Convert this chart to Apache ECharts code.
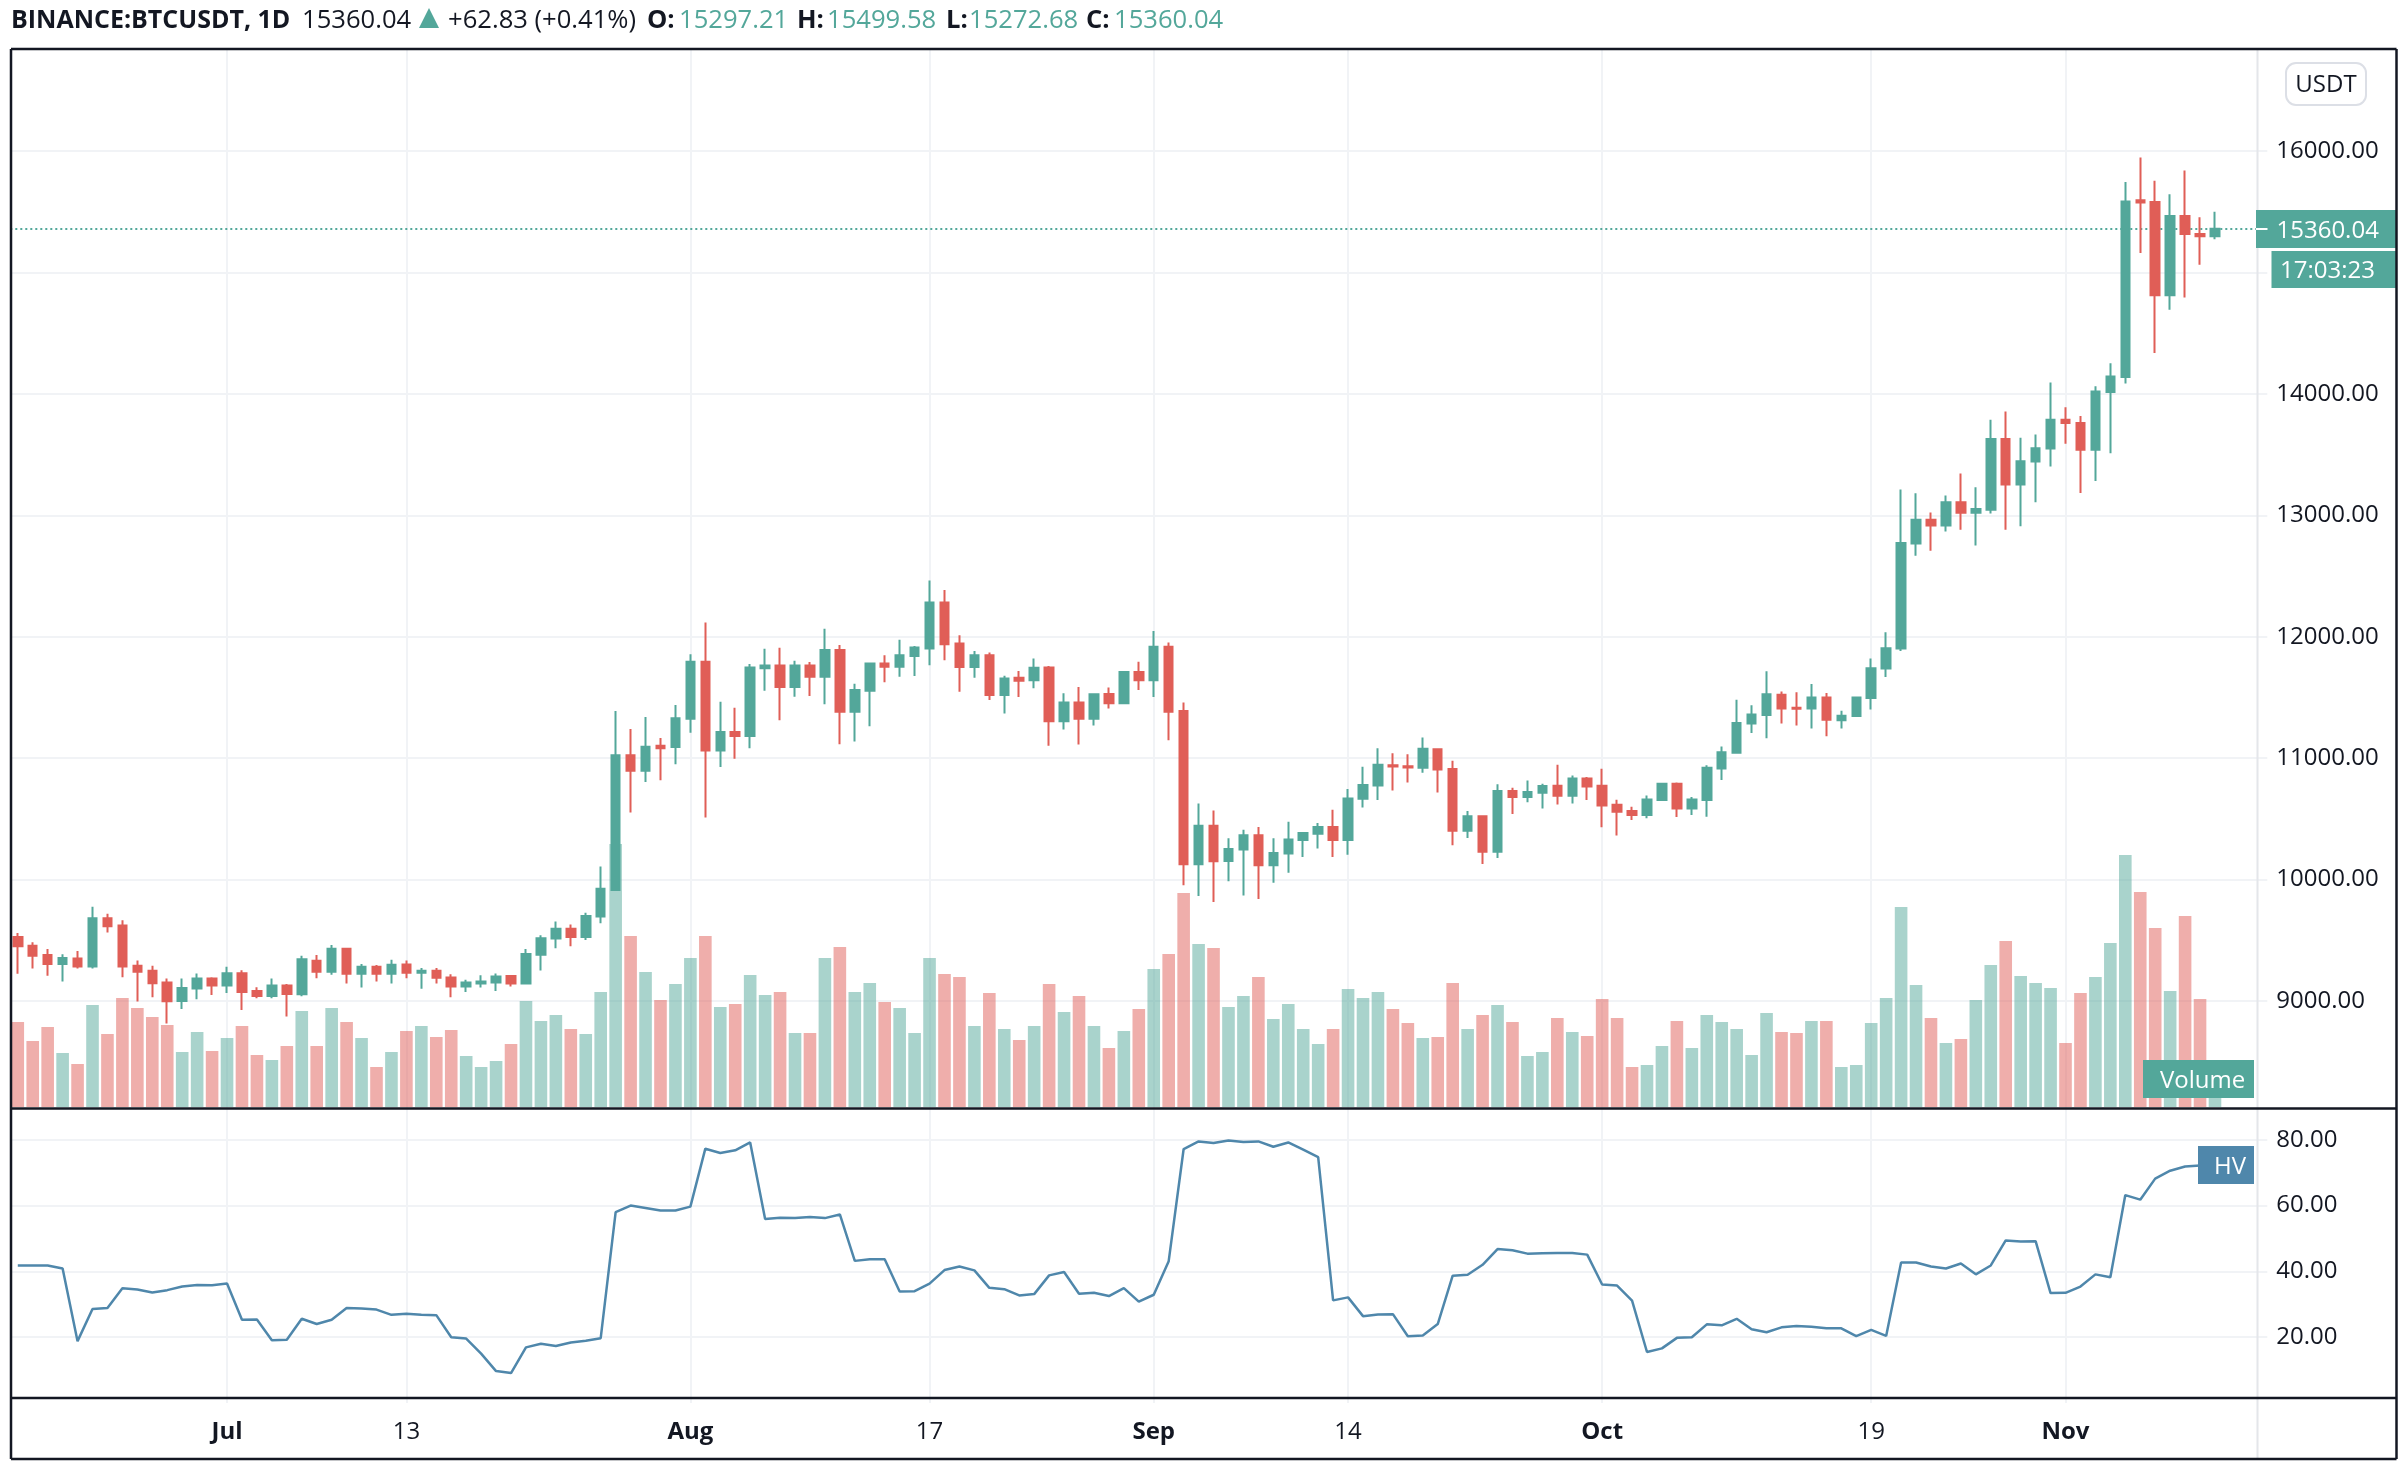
<!DOCTYPE html>
<html>
<head>
<meta charset="utf-8">
<script src="https://cdn.jsdelivr.net/npm/echarts@6/dist/echarts.min.js"></script>
<style>
  html, body { margin: 0; background: #fff; }
  #chart { width: 2404px; height: 1474px; }
</style>
</head>
<body>
<div id="chart"></div>
<script>
const FONT = '"Open Sans", sans-serif';
const UP = '#53a79a';
const DOWN = '#e05e57';
const HV_BLUE = '#4f87ab';
const INK = '#131722';
const LINE = '#f1f3f6';

const opens = [
  9528,9456,9379,9304,9351,9285,9682,9622,9290,9249,
  9152,9000,9102,9185,9127,9229,9083,9042,9127,9055,
  9332,9240,9431,9224,9282,9224,9301,9232,9249,9193,
  9119,9144,9152,9205,9144,9381,9514,9594,9528,9696,
  9915,11024,10897,11103,11091,11324,11794,11062,11215,11182,
  11741,11762,11585,11762,11671,11891,11382,11556,11779,11753,
  11841,11903,12282,11944,11750,11847,11521,11662,11641,11747,
  11303,11459,11324,11529,11453,11709,11641,11918,11388,10127,
  10444,10153,10247,10364,10118,10214,10326,10378,10433,10326,
  10666,10775,10942,10934,10921,11074,10910,10403,10521,10230,
  10729,10679,10715,10773,10690,10833,10773,10616,10564,10531,
  10655,10789,10586,10655,10915,11044,11285,11356,11523,11416,
  11408,11499,11313,11347,11496,11738,11902,12768,12963,12916,
  13108,13020,13045,13628,13253,13442,13549,13786,13760,13540,
  14016,14138,15594,15581,14812,15465,15316,15297.21
];
const closes = [
  9450,9373,9304,9354,9285,9682,9616,9285,9240,9147,
  8997,9108,9185,9127,9229,9075,9042,9127,9058,9343,
  9240,9431,9224,9282,9224,9298,9232,9249,9191,9119,
  9152,9160,9202,9144,9387,9517,9594,9528,9699,9925,
  11024,10897,11094,11082,11329,11794,11062,11215,11182,11747,
  11762,11585,11762,11671,11891,11382,11562,11779,11753,11847,
  11912,12282,11938,11750,11847,11521,11656,11638,11744,11303,
  11459,11324,11526,11453,11709,11641,11918,11382,10127,10444,
  10150,10252,10364,10118,10219,10329,10384,10433,10326,10668,
  10778,10945,10932,10923,11077,10907,10403,10521,10230,10729,
  10679,10721,10770,10690,10833,10767,10611,10559,10531,10660,
  10789,10586,10660,10921,11049,11290,11359,11526,11408,11406,
  11499,11316,11350,11499,11741,11905,12771,12963,12916,13108,
  13020,13052,13628,13253,13445,13552,13786,13760,13540,14019,
  14142,15584,15575,14812,15465,15316,15297,15360.04
];
const lows = [
  9224,9268,9207,9160,9268,9268,9564,9196,8995,9031,
  8815,8934,9014,9050,9066,8926,9022,9022,8873,9039,
  9188,9216,9144,9111,9160,9144,9188,9100,9144,9031,
  9075,9111,9083,9119,9135,9252,9434,9450,9503,9641,
  9906,10553,10803,10818,10950,11209,10512,10927,10994,11082,
  11556,11312,11506,11512,11444,11115,11138,11262,11626,11671,
  11676,11765,11806,11547,11662,11479,11368,11503,11576,11103,
  11235,11112,11268,11409,11450,11562,11503,11147,9953,9865,
  9815,9986,9868,9841,9973,10057,10186,10255,10186,10205,
  10594,10655,10734,10800,10879,10718,10282,10342,10129,10178,
  10540,10636,10586,10619,10627,10655,10430,10362,10490,10504,
  10647,10515,10531,10518,10819,11041,11208,11164,11285,11269,
  11244,11181,11244,11341,11401,11669,11883,12667,12708,12866,
  12881,12752,13014,12881,12910,13108,13401,13590,13184,13282,
  13511,14085,15159,14337,14693,14794,15064,15272.68
];
const highs = [
  9561,9484,9428,9384,9412,9776,9718,9666,9334,9290,
  9185,9185,9227,9196,9282,9254,9113,9185,9141,9373,
  9379,9461,9439,9304,9296,9340,9334,9271,9271,9221,
  9174,9213,9227,9213,9428,9542,9655,9630,9727,10108,
  11388,11241,11338,11165,11438,11856,12118,11465,11415,11776,
  11900,11909,11803,11791,12065,11932,11612,11788,11847,11976,
  11924,12462,12385,12012,11882,11871,11679,11718,11821,11759,
  11535,11585,11535,11582,11718,11794,12047,11953,11459,10627,
  10568,10340,10411,10433,10340,10477,10392,10466,10575,10745,
  10929,11082,11041,11033,11170,11077,10978,10564,10529,10786,
  10756,10816,10789,10945,10858,10844,10912,10658,10600,10693,
  10792,10800,10679,10942,11096,11480,11436,11715,11548,11543,
  11611,11536,11391,11505,11820,12037,13212,13181,13023,13162,
  13345,13231,13786,13855,13638,13666,14094,13890,13817,14063,
  14252,15745,15946,15754,15644,15839,15455,15499.58
];
const volumes = [
  85,66,80,54,43,102,73,109,99,90,
  82,55,75,56,69,81,52,47,61,96,
  61,99,85,69,40,55,76,81,70,77,
  51,40,46,63,106,86,92,78,73,115,
  263,171,135,107,123,149,171,100,103,132,
  112,115,74,74,149,160,115,124,105,99,
  74,149,133,130,81,114,78,67,81,123,
  95,111,81,59,76,98,138,153,214,163,
  159,100,111,130,88,103,78,63,78,118,
  109,115,98,84,69,70,124,78,92,102,
  85,51,55,89,75,71,108,89,40,42,
  61,86,59,92,85,78,52,94,75,74,
  86,86,40,42,84,109,200,122,89,64,
  68,107,142,166,131,124,119,64,114,130,
  164,252,215,179,116,191,108,30
];
const hv = [
  41.8,41.8,41.8,40.9,18.8,28.6,28.9,34.9,34.5,33.6,
  34.3,35.4,35.9,35.8,36.3,25.3,25.4,19.1,19.2,25.6,
  24,25.3,28.9,28.7,28.4,26.8,27.1,26.8,26.7,20,
  19.6,15,9.7,9.1,16.9,18,17.3,18.4,18.9,19.7,
  58,60,59.3,58.5,58.5,59.7,77.3,76,76.8,79.2,
  55.9,56.3,56.2,56.5,56.2,57.3,43.2,43.7,43.7,33.9,
  34,36.3,40.4,41.5,40.3,35,34.6,32.7,33.1,38.8,
  39.8,33.2,33.5,32.5,34.9,30.8,32.9,43.1,77.2,79.5,
  79,79.8,79.3,79.5,77.9,79.2,77,74.7,31.2,32.1,
  26.4,26.9,27,20.3,20.5,24,38.7,39,42,46.8,
  46.4,45.4,45.5,45.6,45.6,45.1,36,35.7,31.1,15.5,
  16.6,19.8,20,23.9,23.6,25.6,22.4,21.5,23,23.4,
  23.2,22.7,22.7,20.3,22.2,20.4,42.7,42.7,41.5,40.9,
  42.4,39.1,41.8,49.4,49.1,49.2,33.4,33.5,35.4,39.1,
  38.2,63.2,61.8,68.2,70.6,71.9,72.2,72.4
];

// Jun 17 onward, three empty days on the right of the last candle
const dates = [];
for (let n = 0; n < 151; n++) {
  dates.push(new Date(Date.UTC(2020, 5, 17 + n)).toISOString().slice(5, 10));
}
const dateLabels = {
  '07-01': 'Jul', '07-13': '13', '08-01': 'Aug', '08-17': '17', '09-01': 'Sep',
  '09-14': '14', '10-01': 'Oct', '10-19': '19', '11-01': 'Nov'
};
const isTickDate = (idx, value) => dateLabels[value] !== undefined;
const lastPrice = 15360.04;

const candles = opens.map((o, i) => [o, closes[i], lows[i], highs[i]]);

const gridBox = { left: 10.3, width: 2257 };

const hiddenX = (gridIndex) => ({
  type: 'category',
  gridIndex,
  data: dates,
  axisLine: { show: false },
  axisTick: { show: false },
  axisLabel: { show: false },
  splitLine: { show: false }
});

const priceLabels = {
  show: true,
  margin: 9,
  fontFamily: FONT,
  fontSize: 24,
  color: INK,
  padding: [5, 0, 0, 0],
  showMinLabel: false,
  showMaxLabel: false,
  formatter: (v) => v.toFixed(2)
};
const horizontal = { show: true, showMinLine: false, showMaxLine: false, lineStyle: { color: LINE, width: 2 } };
const vertical = { show: true, interval: isTickDate, alignWithLabel: true, lineStyle: { color: LINE, width: 2 } };

const text = (x, y, str, color, weight, size, align) => ({
  type: 'text',
  x,
  y,
  z: 100,
  style: {
    text: str,
    fill: color,
    font: `${weight || 'normal'} ${size || 25.6}px ${FONT}`,
    textAlign: align || 'left',
    textVerticalAlign: 'middle'
  }
});
const rect = (x, y, w, h, fill, extra) => ({
  type: 'rect',
  z: 90,
  shape: Object.assign({ x, y, width: w, height: h }, extra && extra.shape),
  style: Object.assign({ fill }, extra && extra.style)
});
const hLine = (x1, x2, y, color, width, z) => ({
  type: 'line', z: z || 95, shape: { x1, y1: y, x2, y2: y }, style: { stroke: color, lineWidth: width }
});
const vLine = (x, y1, y2, color, width, z) => ({
  type: 'line', z: z || 95, shape: { x1: x, y1, x2: x, y2 }, style: { stroke: color, lineWidth: width }
});

const chrome = [
  vLine(2257.5, 50, 1458, '#e4e6ea', 2, 80),
  hLine(11, 2396.5, 49, INK, 2.5),
  hLine(11, 2396.5, 1108.5, INK, 2.5),
  hLine(11, 2396.5, 1398, INK, 2.5),
  hLine(11, 2396.5, 1459, INK, 2.5),
  vLine(11, 49, 1459, INK, 2.5),
  vLine(2396.5, 49, 1459, INK, 2.5),

  text(11, 21, 'BINANCE:BTCUSDT, 1D', INK, 'bold', 25),
  text(302, 21, '15360.04', INK),
  { type: 'polygon', z: 100, shape: { points: [[419, 28], [439, 28], [429, 8]] }, style: { fill: UP } },
  text(448, 21, '+62.83 (+0.41%)', INK),
  text(647, 21, 'O:', INK, 'bold'),
  text(679, 21, '15297.21', UP),
  text(797, 21, 'H:', INK, 'bold'),
  text(827, 21, '15499.58', UP),
  text(946, 21, 'L:', INK, 'bold'),
  text(969, 21, '15272.68', UP),
  text(1086, 21, 'C:', INK, 'bold'),
  text(1114, 21, '15360.04', UP),

  rect(2286, 63, 80, 42, '#fff', { shape: { r: 10 }, style: { stroke: '#dcdfe6', lineWidth: 2 } }),
  text(2326, 85, 'USDT', INK, 'normal', 24, 'center'),

  rect(2256, 210, 140, 38, UP),
  hLine(2256, 2267.5, 229, '#fff', 2, 96),
  text(2276.5, 231, '15360.04', '#fff', 'normal', 24),
  rect(2271.5, 251, 124.5, 37, UP),
  text(2280, 271.5, '17:03:23', '#fff', 'normal', 24),
  rect(2143, 1060, 111, 38, UP),
  text(2160, 1081, 'Volume', '#fff', 'normal', 24),
  rect(2198, 1146, 56, 38, HV_BLUE),
  text(2214, 1167, 'HV', '#fff', 'normal', 24)
];

const chart = echarts.init(document.getElementById('chart'));

chart.setOption({
  animation: false,
  backgroundColor: '#fff',
  grid: [
    { left: gridBox.left, width: gridBox.width, top: 29.57, height: 1092.86 },
    { left: gridBox.left, width: gridBox.width, top: 50, height: 1057 },
    { left: gridBox.left, width: gridBox.width, top: 1074, height: 329 }
  ],
  xAxis: [
    hiddenX(0),
    Object.assign(hiddenX(1), { splitLine: vertical }),
    {
      type: 'category',
      gridIndex: 2,
      data: dates,
      axisLine: { show: false },
      axisTick: { show: false },
      splitLine: vertical,
      axisLabel: {
        interval: isTickDate,
        margin: 17,
        fontFamily: FONT,
        fontSize: 24,
        color: INK,
        formatter: (value) => {
          const label = dateLabels[value];
          return /[a-z]/i.test(label) ? `{month|${label}}` : label;
        },
        rich: { month: { fontFamily: FONT, fontSize: 24, fontWeight: 'bold', color: INK } }
      }
    }
  ],
  yAxis: [
    {
      type: 'value',
      gridIndex: 0,
      position: 'right',
      min: 8000,
      max: 17000,
      interval: 1000,
      axisLine: { show: false },
      axisTick: { show: false },
      axisLabel: priceLabels,
      splitLine: horizontal
    },
    {
      type: 'value',
      gridIndex: 1,
      min: 0,
      max: 1057,
      show: false,
      splitLine: { show: false }
    },
    {
      type: 'value',
      gridIndex: 2,
      position: 'right',
      min: 0,
      max: 100,
      interval: 20,
      axisLine: { show: false },
      axisTick: { show: false },
      axisLabel: priceLabels,
      splitLine: horizontal
    }
  ],
  series: [
    {
      name: 'Volume',
      type: 'bar',
      xAxisIndex: 1,
      yAxisIndex: 1,
      z: 2,
      barWidth: 12.6,
      data: volumes,
      itemStyle: {
        opacity: 0.5,
        color: (p) => (closes[p.dataIndex] >= opens[p.dataIndex] ? UP : DOWN)
      }
    },
    {
      name: 'BTCUSDT',
      type: 'candlestick',
      xAxisIndex: 0,
      yAxisIndex: 0,
      z: 5,
      barWidth: 9,
      data: candles,
      itemStyle: {
        color: UP,
        color0: DOWN,
        borderColor: UP,
        borderColor0: DOWN,
        borderWidth: 2
      },
      markLine: {
        z: 1,
        silent: true,
        symbol: 'none',
        label: { show: false },
        lineStyle: { type: [2, 3], color: UP, width: 2 },
        data: [{ yAxis: lastPrice }]
      }
    },
    {
      name: 'HV',
      type: 'line',
      xAxisIndex: 2,
      yAxisIndex: 2,
      z: 4,
      showSymbol: false,
      data: hv,
      lineStyle: { color: HV_BLUE, width: 2.5 }
    }
  ],
  graphic: { elements: chrome }
});
</script>
</body>
</html>
